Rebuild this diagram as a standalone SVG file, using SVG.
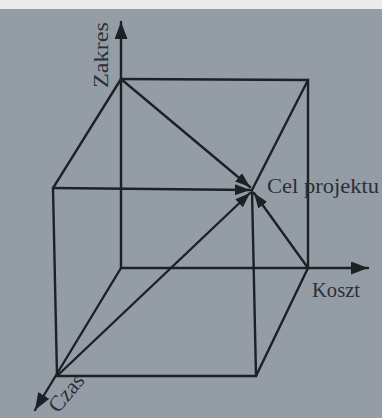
<svg xmlns="http://www.w3.org/2000/svg" width="382" height="418" viewBox="0 0 382 418">
<style>
.e{stroke:#1d2125;stroke-width:2.4;fill:none;stroke-linecap:round}
.t{font-family:"Liberation Serif","Times New Roman",serif;font-size:22px;fill:#2b3036}
</style>
<defs>
<marker id="ah" markerUnits="userSpaceOnUse" markerWidth="18" markerHeight="14" refX="17" refY="6.5" orient="auto">
<path d="M0,0 L17,6.5 L0,13 Z" fill="#1d2125"/>
</marker>
<marker id="as" markerUnits="userSpaceOnUse" markerWidth="16" markerHeight="12" refX="15" refY="5.5" orient="auto">
<path d="M0,0 L15,5.5 L0,11 Z" fill="#1d2125"/>
</marker>
</defs>
<rect width="382" height="418" fill="#949da5"/>
<rect width="382" height="9" fill="#e9ebed"/>
<g id="cube">
<path class="e" d="M121,79 L308,80 L308,268"/>
<path class="e" d="M121,79 L53,188 L57,376 L256,376 L308,268"/>
<path class="e" d="M308,80 L252,190 L256,376"/>
</g>
<g id="axes">
<line class="e" x1="121" y1="268" x2="121" y2="22" marker-end="url(#ah)"/>
<line class="e" x1="121" y1="268" x2="368" y2="268" marker-end="url(#ah)"/>
<line class="e" x1="121" y1="268" x2="35" y2="410" marker-end="url(#ah)"/>
</g>
<g id="connectors">
<line class="e" x1="121" y1="79" x2="250" y2="187" marker-end="url(#as)"/>
<line class="e" x1="53" y1="188" x2="250" y2="190" marker-end="url(#as)"/>
<line class="e" x1="57" y1="376" x2="250" y2="193" marker-end="url(#as)"/>
<line class="e" x1="308" y1="268" x2="254" y2="193" marker-end="url(#as)"/>
</g>
<g id="labels">
<text class="t" transform="translate(108,88) rotate(-90)" textLength="66" lengthAdjust="spacingAndGlyphs">Zakres</text>
<text class="t" x="267" y="193" textLength="112" lengthAdjust="spacingAndGlyphs">Cel projektu</text>
<text class="t" x="312" y="297" textLength="48" lengthAdjust="spacingAndGlyphs">Koszt</text>
<text class="t" transform="translate(58,414) rotate(-50)" textLength="43" lengthAdjust="spacingAndGlyphs">Czas</text>
</g>
</svg>
